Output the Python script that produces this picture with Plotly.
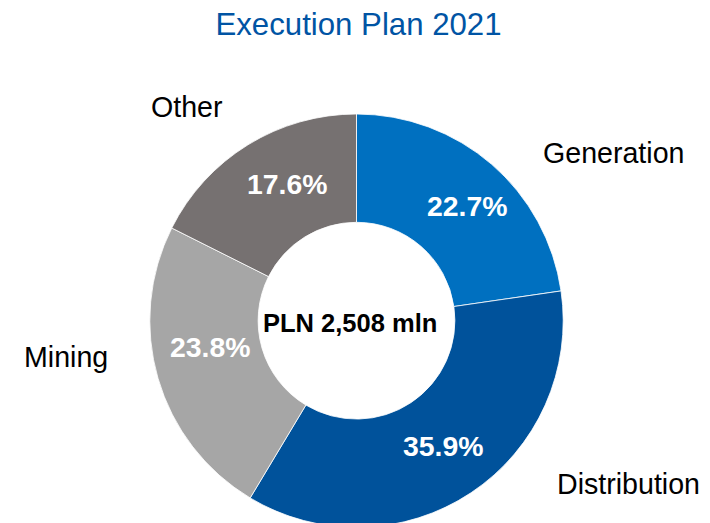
import plotly.graph_objects as go

title_text = "Execution Plan 2021"
center_text = "PLN 2,508 mln"
categories = ["Generation", "Distribution", "Mining", "Other"]
shares = [22.7, 35.9, 23.8, 17.6]

colors = ["#0070C0", "#00529B", "#A6A6A6", "#767171"]
# page offset (body margin) compensation
OFF = 8
# outer label positions in page pixels – styling only
label_pos = {
    "Generation": (613.5, 153.5),
    "Distribution": (628, 484),
    "Mining": (65.7, 357),
    "Other": (186.7, 107),
}
# in-slice value label positions in page pixels – styling only
value_pos = {
    "Generation": (467.5, 205.8),
    "Distribution": (443, 446.3),
    "Mining": (210.5, 347),
    "Other": (287, 183.7),
}

W, H = 710, 523
FONT = "Liberation Sans, Arial, sans-serif"

cx, cy, R = 356.5 - OFF, 320.7 - OFF, 206.7

fig = go.Figure()
fig.add_trace(go.Pie(
    labels=categories,
    values=shares,
    sort=False,
    direction="clockwise",
    rotation=0,
    hole=0.476,
    marker=dict(colors=colors, line=dict(color="white", width=0.8)),
    textinfo="none",
    showlegend=False,
    hoverinfo="label+percent",
    domain=dict(x=[(cx - R) / W, (cx + R) / W],
                y=[1 - (cy + R) / H, 1 - (cy - R) / H]),
))

annotations = []
for cat, v in zip(categories, shares):
    px, py = label_pos[cat]
    annotations.append(dict(
        x=(px - OFF) / W, y=1 - (py - OFF) / H, xref="paper", yref="paper",
        text=cat, showarrow=False, xanchor="center", yanchor="middle",
        font=dict(family=FONT, size=28.6, color="black"),
    ))
    vx, vy = value_pos[cat]
    annotations.append(dict(
        x=(vx - OFF) / W, y=1 - (vy - OFF) / H, xref="paper", yref="paper",
        text="<b>%.1f%%</b>" % v, showarrow=False,
        xanchor="center", yanchor="middle",
        font=dict(family=FONT, size=28.4, color="white"),
    ))
annotations.append(dict(
    x=(350.3 - OFF) / W, y=1 - (323 - OFF) / H, xref="paper", yref="paper",
    text="<b>" + center_text + "</b>", showarrow=False,
    xanchor="center", yanchor="middle",
    font=dict(family=FONT, size=25.5, color="black"),
))

fig.update_layout(
    width=W, height=H,
    margin=dict(l=0, r=0, t=0, b=0),
    paper_bgcolor="white",
    plot_bgcolor="white",
    annotations=annotations,
    title=dict(
        text=title_text,
        x=(358.5 - OFF) / W, xanchor="center", xref="paper",
        y=1 - (24 - OFF) / H, yanchor="middle", yref="container",
        font=dict(family=FONT, size=31.2, color="#0054A4"),
    ),
)

fig.write_html("out.html")
